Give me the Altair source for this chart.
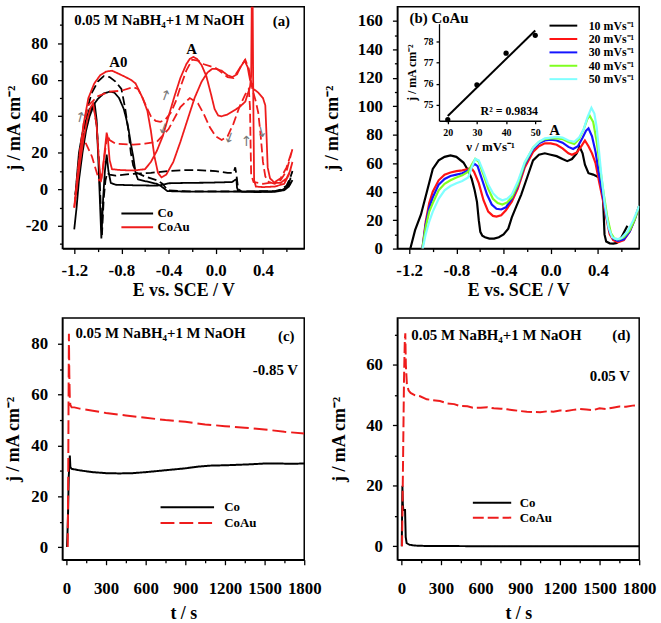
import altair as alt
import pandas as pd

FONT = "Liberation Serif"
RED = "#ee1c1c"

# ===================== (a) CVs of Co and CoAu =====================
a_co_solid_E = [-1.19, -1.16, -1.13, -1.10, -1.05, -1.00, -0.95, -0.90, -0.86, -0.82,
                -0.78, -0.76, -0.74, -0.72, -0.70, -0.68, -0.66, -0.60, -0.50, -0.46,
                -0.41, -0.30, -0.10, 0.10, 0.30, 0.50, 0.56, 0.60, 0.63, 0.65,
                0.62, 0.58, 0.50, 0.35, 0.22, 0.19, 0.18, 0.175, 0.16, 0.14,
                0.05, -0.10, -0.25, -0.40, -0.45, -0.50, -0.70, -0.85, -0.89, -0.91,
                -0.925, -0.94, -0.955, -0.97, -0.98, -0.995, -1.01, -1.025, -1.04, -1.07,
                -1.10, -1.13, -1.16, -1.18, -1.20]
a_co_solid_j = [-3, 20, 31, 38, 45, 49.5, 52.5, 53.5, 53, 50,
                44, 39, 33, 25, 18, 9, 5.5, 4.5, 3, 1.5,
                -1, -1.2, -1.3, -1.3, -1.2, -1.2, -0.5, 1, 3, 5,
                1.5, -0.5, -1.4, -1.5, -1.4, -1, 1, 5.5, 5, 4,
                3.8, 3.6, 3.5, 3.3, 2.5, 2, 2.2, 2.5, 3.5, 10,
                19, 10, -5, -27, -10, 15, 38, 46, 45, 40,
                32, 20, 5, -10, -22]

a_co_dash_E = [-1.19, -1.16, -1.13, -1.10, -1.05, -1.00, -0.95, -0.90, -0.85, -0.80,
               -0.77, -0.74, -0.72, -0.70, -0.67, -0.60, -0.50, -0.45, -0.41, -0.30,
               -0.10, 0.10, 0.30, 0.50, 0.56, 0.60, 0.63, 0.65,
               0.62, 0.58, 0.50, 0.35, 0.22, 0.19, 0.175, 0.165, 0.15, 0.10,
               0.00, -0.15, -0.25, -0.40, -0.55, -0.70, -0.85, -0.90, -0.92, -0.935,
               -0.95, -0.965, -0.975, -0.99, -1.01, -1.03, -1.05, -1.07, -1.10, -1.13,
               -1.16, -1.19]
a_co_dash_j = [-3, 15, 30, 42, 53, 59, 62, 61.5, 59, 55,
               45, 32, 20, 13, 9, 7, 5, 3, -0.5, -1,
               -1.2, -1.2, -1.1, -1, 0, 2, 6, 10,
               3, 0, -1.3, -1.3, -1.2, 0, 8, 12, 9, 9,
               10, 10.5, 10.5, 10, 9, 8.5, 7.5, 8, 9, 5,
               -5, -25, -10, 15, 35, 44, 46, 44, 38, 27,
               12, -5]

a_coau_solid_E = [-1.20, -1.18, -1.15, -1.12, -1.08, -1.03, -0.98, -0.93, -0.88, -0.83,
                  -0.78, -0.72, -0.68, -0.62, -0.58, -0.55, -0.52, -0.49, -0.46, -0.42,
                  -0.36, -0.30, -0.24, -0.18, -0.12, -0.07, -0.03, 0.00, 0.05, 0.10,
                  0.14, 0.18, 0.21, 0.245, 0.27, 0.29, 0.32, 0.36, 0.40, 0.42,
                  0.43, 0.44, 0.46, 0.50, 0.55, 0.60, 0.63, 0.65,
                  0.62, 0.58, 0.50, 0.40, 0.34, 0.325, 0.318, 0.312, 0.306, 0.30,
                  0.29, 0.27, 0.25, 0.20, 0.15, 0.10, 0.05, 0.02, -0.01, -0.04,
                  -0.08, -0.12, -0.16, -0.19, -0.22, -0.25, -0.30, -0.35, -0.40, -0.45,
                  -0.50, -0.55, -0.60, -0.70, -0.80, -0.88, -0.90, -0.915, -0.925, -0.94,
                  -0.96, -0.975, -0.99, -1.01, -1.04, -1.06, -1.09, -1.12, -1.15, -1.18, -1.20]
a_coau_solid_j = [-10, 0, 20, 36, 50, 58, 62.5, 64.5, 65, 63.5,
                  62, 60, 58, 50, 43, 32, 18, 9, 6.5, 8,
                  15, 26, 38, 50, 59, 64, 66, 66, 65, 62.5,
                  61.5, 63, 67, 70.5, 67, 60, 55, 53, 50, 46,
                  30, 12, 6, 3.5, 3.5, 6, 10, 15,
                  8, 3, 1.5, 1.2, 1.5, 5, 50, 110, 110, 62,
                  56, 52, 48, 45, 43, 41, 40, 40.5, 44, 52,
                  62, 68, 71.5, 72.5, 71.5, 68.5, 61, 51, 40, 29,
                  21, 15, 11, 10.3, 10.5, 11, 16, 28, 31, 22,
                  9, 4, 15, 35, 47, 45, 38, 28, 15, 0, -10]

a_coau_dash_E = [-1.20, -1.17, -1.15, -1.12, -1.08, -1.00, -0.90, -0.80, -0.70, -0.66,
                 -0.62, -0.58, -0.55, -0.51, -0.47, -0.43, -0.38, -0.34, -0.30, -0.25,
                 -0.20, -0.15, -0.10, 0.00, 0.10, 0.15, 0.20, 0.25, 0.28, 0.31,
                 0.34, 0.36, 0.38, 0.40, 0.42, 0.45, 0.50, 0.55, 0.60, 0.65,
                 0.60, 0.55, 0.50, 0.40, 0.32, 0.30, 0.295, 0.29, 0.28, 0.25,
                 0.20, 0.15, 0.10, 0.05, 0.00, -0.05, -0.10, -0.15, -0.22, -0.30,
                 -0.40, -0.50, -0.60, -0.70, -0.85, -0.90, -0.92, -0.94, -0.97, -0.99,
                 -1.05, -1.10, -1.13, -1.16, -1.20]
a_coau_dash_j = [-10, 10, 22, 36, 46, 51, 53.5, 54, 56, 55,
                 50, 44, 40, 37.5, 37, 38, 42, 48, 56, 65,
                 71, 70.5, 68.5, 66.5, 61.5, 61, 66, 71, 66, 55,
                 48, 42, 30, 15, 7, 4, 3, 5, 10, 22,
                 12, 6, 4, 3, 4, 8, 25, 45, 55, 52,
                 45, 36, 29, 27, 29, 34, 41, 47, 50, 45,
                 33, 26, 25, 24.5, 25, 27, 30, 20, 6, 5,
                 18, 25, 27, 15, -10]

a_arrow_E = [-1.15, -0.43, -0.44, 0.12, 0.26, 0.385]
a_arrow_j = [39, 51, 34, 29, 26, 32]
a_arrow_angle = [15, 20, 200, 200, 0, 165]

# ===================== (b) CoAu at several scan rates =====================
b_rates = ["10 mVs⁻¹", "20 mVs⁻¹", "30 mVs⁻¹", "40 mVs⁻¹", "50 mVs⁻¹"]
b_colors = ["#000000", "#ff1414", "#1414ff", "#80ff20", "#80ffff"]

b10_E = [-1.19, -1.15, -1.10, -1.05, -1.00, -0.95, -0.90, -0.85, -0.80, -0.74,
         -0.70, -0.67, -0.645, -0.625, -0.61, -0.597, -0.58, -0.557, -0.52, -0.48,
         -0.44, -0.40, -0.36, -0.33, -0.29, -0.25, -0.20, -0.15, -0.10, -0.05,
         0.00, 0.05, 0.10, 0.14, 0.18, 0.22, 0.245, 0.27, 0.29, 0.32,
         0.36, 0.41, 0.44, 0.456, 0.47, 0.50, 0.53, 0.56, 0.60, 0.65]
b10_j = [0, 13, 24, 40, 56, 62, 64.5, 65.5, 64.5, 60.5,
         55, 49, 41, 32.7, 20, 11.8, 9, 8, 7, 7,
         8, 10, 14, 22, 30, 38, 50, 62, 66, 67,
         66, 65, 63, 61.5, 63, 67, 71.5, 67, 59, 53,
         52, 50, 42, 10, 5, 3.7, 3.5, 4, 8, 16]

b20_E = [-1.088, -1.06, -1.03, -1.00, -0.95, -0.90, -0.85, -0.80, -0.75, -0.70,
         -0.675, -0.65, -0.61, -0.57, -0.53, -0.49, -0.46, -0.42, -0.38, -0.33,
         -0.28, -0.22, -0.15, -0.10, -0.05, 0.00, 0.05, 0.10, 0.15, 0.18,
         0.22, 0.26, 0.29, 0.32, 0.35, 0.38, 0.41, 0.44, 0.47, 0.50,
         0.53, 0.57, 0.62, 0.67, 0.71, 0.75]
b20_j = [0, 19, 32, 40, 48, 52, 53.5, 54.5, 55, 56,
         57, 54, 46, 34, 26, 23, 22.5, 23.5, 27, 33,
         42, 57, 68, 72, 74, 74, 73, 70.5, 67, 66,
         67.5, 72, 76, 72, 67, 60, 47, 35, 22, 10,
         6, 4.5, 6, 12, 20, 30]

b30_E = [-1.088, -1.06, -1.03, -1.00, -0.95, -0.90, -0.85, -0.80, -0.75, -0.70,
         -0.67, -0.645, -0.62, -0.58, -0.54, -0.50, -0.46, -0.42, -0.38, -0.33,
         -0.28, -0.22, -0.15, -0.10, -0.05, 0.00, 0.05, 0.10, 0.15, 0.19,
         0.23, 0.27, 0.30, 0.32, 0.35, 0.38, 0.41, 0.44, 0.47, 0.50,
         0.53, 0.57, 0.62, 0.67, 0.71, 0.75]
b30_j = [0, 17, 29, 36, 45, 49, 51, 52, 53, 55,
         57.5, 59.5, 58, 48, 38, 31, 28, 27.5, 29, 35,
         44, 59, 70, 74, 76, 76.5, 76, 74.5, 71.5, 70,
         72, 78, 83, 84.5, 79, 68, 52, 38, 24, 12,
         7, 5.5, 6.5, 12, 20, 30]

b40_E = [-1.088, -1.06, -1.03, -1.00, -0.95, -0.90, -0.85, -0.80, -0.75, -0.70,
         -0.67, -0.64, -0.61, -0.57, -0.53, -0.49, -0.45, -0.41, -0.37, -0.33,
         -0.28, -0.22, -0.15, -0.10, -0.05, 0.00, 0.05, 0.10, 0.15, 0.20,
         0.24, 0.28, 0.31, 0.33, 0.36, 0.39, 0.42, 0.45, 0.48, 0.51,
         0.54, 0.58, 0.62, 0.67, 0.71, 0.75]
b40_j = [0, 15, 26, 32, 41, 45.5, 48, 50, 51.5, 54,
         59, 63, 61, 52, 42, 35, 32, 31, 32.5, 36,
         45, 60, 71, 75, 77, 77.5, 77.5, 77, 75, 73.5,
         77, 84, 91, 93.5, 89, 75, 56, 38, 22, 11,
         7, 6.5, 8, 13, 20, 30]

b50_E = [-1.085, -1.06, -1.03, -1.00, -0.95, -0.90, -0.85, -0.80, -0.75, -0.70,
         -0.67, -0.64, -0.61, -0.57, -0.53, -0.49, -0.45, -0.41, -0.37, -0.33,
         -0.28, -0.22, -0.15, -0.10, -0.05, 0.00, 0.05, 0.10, 0.15, 0.20,
         0.24, 0.28, 0.31, 0.345, 0.37, 0.39, 0.41, 0.43, 0.46, 0.49,
         0.52, 0.56, 0.60, 0.65, 0.70, 0.75]
b50_j = [0, 10, 19, 26, 35, 41, 44, 46, 47.5, 50,
         57, 63, 62, 54, 45, 39, 35.5, 34, 35, 38,
         47, 61, 71, 75, 77.5, 78, 78.5, 78, 76, 75,
         78, 84, 92, 99, 95, 85, 68, 51, 30, 15,
         8, 6.5, 7.5, 12, 20, 30]

inset_v = [20, 30, 40, 50]
inset_j = [74.3, 75.95, 77.45, 78.3]

# ===================== (c) chronoamperometry at -0.85 V =====================
c_co_t = [5, 12, 18, 22, 26, 30, 40, 100, 200, 300, 400, 500, 600, 700, 800, 900,
          1000, 1100, 1200, 1300, 1400, 1500, 1600, 1700, 1800]
c_co_j = [0, 12, 28, 32, 36, 31.5, 30.8, 30.2, 29.5, 29.1, 29.0, 29.1, 29.5, 30.0, 30.5, 31.0,
          31.7, 32.1, 32.2, 32.4, 32.6, 32.9, 32.9, 32.8, 32.9]
c_coau_t = [10, 14, 17, 19, 22, 26, 30, 40, 60, 100, 200, 300, 450, 600, 750, 900,
            1050, 1200, 1350, 1500, 1650, 1800]
c_coau_j = [0, 30, 65, 84, 68, 58, 56, 55, 55, 54.5, 53.7, 52.8, 51.8, 50.9, 50.0, 49.3,
            48.3, 47.6, 47.0, 46.3, 45.4, 44.7]

# ===================== (d) chronoamperometry at 0.05 V =====================
d_co_t = [3, 8, 11, 15, 22, 28, 33, 40, 60, 100, 200, 600, 1000, 1400, 1800]
d_co_j = [0, 20, 14, 12, 12, 12, 3, 1, 0.5, 0.2, 0.05, 0, 0, 0, 0]
d_coau_t = [5, 12, 20, 26, 30, 34, 42, 55, 70, 100,
            142, 192, 240, 292, 350, 400, 442, 500, 541, 600,
            650, 700, 752, 800, 850, 901, 950, 1001, 1050, 1101,
            1150, 1200, 1250, 1300, 1350, 1400, 1450, 1500, 1550, 1600,
            1650, 1700, 1750, 1800]
d_coau_j = [0, 25, 55, 68, 70.4, 60, 53.5, 51.5, 50.7, 50,
            49.6, 48.6, 48.3, 48, 47.2, 47, 46.4, 46.3, 45.8, 45.8,
            46, 45.6, 45.5, 45.3, 45, 44.7, 44.5, 44.4, 44.3, 44.6,
            44.5, 44.9, 44.7, 45.1, 45.4, 45.2, 45, 45.6, 45.4, 45.8,
            46.2, 46.1, 46.5, 46.7]

# tick values
ticks_E = [-1.2, -1.0, -0.8, -0.6, -0.4, -0.2, 0.0, 0.2, 0.4, 0.6]
ticks_a_y = [-30, -20, -10, 0, 10, 20, 30, 40, 50, 60, 70, 80, 90]
ticks_b_y = list(range(0, 161, 10))
ticks_t = list(range(0, 1801, 150))
ticks_c_y = list(range(0, 81, 10))
ticks_d_y = list(range(0, 71, 10))

MAT = ["Co", "CoAu"]
PANEL = 244
J_TITLE = "j / mA cm⁻²"


def curve(E, j, key, **extra):
    assert len(E) == len(j), key
    d = pd.DataFrame({"x": E, "y": j})
    d["idx"] = range(len(d))
    d["curve"] = key
    for k, v in extra.items():
        d[k] = v
    return d


def axis(values, major, fmt, title, orient, extent=None, **kw):
    args = dict(values=values, format=fmt, title=title, orient=orient,
                labelExpr=f"({major}) ? replace(datum.label, '\u2212', '-') : ''",
                tickSize={"condition": {"test": f"!({major})", "value": 3}, "value": 5},
                labelFlush=False, labelOverlap=False, grid=False)
    if extent is not None:
        args.update(minExtent=extent, maxExtent=extent)
    args.update(kw)
    return alt.Axis(**args)


def enc_x(domain, values, major, fmt, title, lpad, tpad):
    return alt.X("x:Q", scale=alt.Scale(domain=domain, nice=False, zero=False),
                 axis=axis(values, major, fmt, title, "bottom", labelPadding=lpad, titlePadding=tpad))


def enc_y(domain, values, major, extent):
    return alt.Y("y:Q", scale=alt.Scale(domain=domain, nice=False, zero=False),
                 axis=axis(values, major, "d", J_TITLE, "left", extent=extent,
                           labelPadding=10, titlePadding=1))


def texts(xs, ys, labels, x, y, align="center", size=15):
    d = pd.DataFrame({"x": xs, "y": ys, "label": labels})
    return alt.Chart(d).mark_text(align=align, baseline="middle", font=FONT,
                                  fontWeight="bold", fontSize=size, color="black").encode(
        x=x, y=y, text="label:N")


def legend(lx, ly, length, gap, rowpad, size=13):
    # stroke symbol drawn as a long custom path so that rows stay compact
    q = length / 4.0
    return alt.Legend(orient="none", legendX=lx, legendY=ly, title=None,
                      symbolType="M-4,0H4", symbolSize=q * q, symbolStrokeWidth=2,
                      labelFont=FONT, labelFontWeight="bold", labelFontSize=size,
                      labelColor="black", labelOffset=1.5 * q + gap, rowPadding=rowpad,
                      padding=0)


MAJOR_E = "abs(round(datum.value*10)) % 4 == 0"

# ---------------- panel (a) ----------------
a_df = pd.concat([
    curve(a_co_solid_E, a_co_solid_j, "Co-s", mat="Co", scan="solid"),
    curve(a_co_dash_E, a_co_dash_j, "Co-d", mat="Co", scan="dash"),
    curve(a_coau_solid_E, a_coau_solid_j, "CoAu-s", mat="CoAu", scan="solid"),
    curve(a_coau_dash_E, a_coau_dash_j, "CoAu-d", mat="CoAu", scan="dash"),
])
ax = enc_x([-1.3, 0.75], ticks_E, MAJOR_E, ".1f", "E vs. SCE / V", 9, 3)
ay = enc_y([-32.5, 100], ticks_a_y, "abs(round(datum.value)) % 20 == 0", 38)

a_lines = alt.Chart(a_df).mark_line(clip=True, strokeWidth=1.8).encode(
    x=ax, y=ay,
    color=alt.Color("mat:N", scale=alt.Scale(domain=MAT, range=["black", RED]),
                    legend=legend(69, 202, 32, 2, 0)),
    strokeDash=alt.StrokeDash("scan:N", scale=alt.Scale(domain=["solid", "dash"],
                                                        range=[[1, 0], [9, 4]]), legend=None),
    detail="curve:N", order="idx:Q")
a_arrows = alt.Chart(pd.DataFrame({"x": a_arrow_E, "y": a_arrow_j, "ang": a_arrow_angle})).mark_text(
    font="DejaVu Sans", fontSize=14, color="#7a7a7a", baseline="middle").encode(
    x=ax, y=ay, text=alt.value("↑"), angle=alt.Angle("ang:Q", scale=None))
panel_a = alt.layer(
    a_lines,
    texts([-1.2], [93], ["0.05 M NaBH₄+1 M NaOH"], ax, ay, align="left"),
    texts([0.556, -0.826, -0.205], [92, 69.7, 76.8], ["(a)", "A0", "A"], ax, ay),
    a_arrows,
).properties(width=PANEL, height=PANEL)

# ---------------- panel (b) ----------------
b_df = pd.concat([curve(E, j, r, rate=r) for E, j, r in
                  zip([b10_E, b20_E, b30_E, b40_E, b50_E],
                      [b10_j, b20_j, b30_j, b40_j, b50_j], b_rates)])
bx = enc_x([-1.3, 0.75], ticks_E, MAJOR_E, ".1f", "E vs. SCE / V", 9, 3)
by = enc_y([0, 170], ticks_b_y, "round(datum.value) % 20 == 0", 55)
b_lines = alt.Chart(b_df).mark_line(clip=True, strokeWidth=2.2).encode(
    x=bx, y=by,
    color=alt.Color("rate:N", scale=alt.Scale(domain=b_rates, range=b_colors),
                    legend=legend(161.5, 13, 28, 9, 1.5, size=12)),
    detail="curve:N", order="idx:Q")
b_main = alt.layer(
    b_lines,
    texts([-1.197], [162.4], ["(b) CoAu"], bx, by, align="left"),
    texts([0.032], [83.5], ["A"], bx, by),
)

ix = alt.X("v:Q", scale=alt.Scale(domain=[17, 52], range=[42, 145], nice=False, zero=False),
           axis=alt.Axis(orient="bottom", offset=-129, values=inset_v, title="ν / mVs⁻¹",
                         labelFontSize=10, titleFontSize=13, tickSize=3, labelPadding=4,
                         titlePadding=3, grid=False, labelFlush=False))
iy = alt.Y("jv:Q", scale=alt.Scale(domain=[74.25, 78.85], range=[115, 17], nice=False, zero=False),
           axis=alt.Axis(orient="left", offset=-42, values=[75, 76, 77, 78], title=J_TITLE,
                         labelFontSize=10, titleFontSize=12, tickSize=3, labelPadding=3,
                         titlePadding=5, grid=False, labelFlush=False))
inset_df = pd.DataFrame({"v": inset_v, "jv": inset_j})
b_inset = alt.layer(
    alt.Chart(inset_df).transform_regression("v", "jv", extent=[20, 50]).mark_line(
        color="black", strokeWidth=2).encode(x=ix, y=iy),
    alt.Chart(inset_df).mark_circle(color="black", size=28, opacity=1).encode(x=ix, y=iy),
    alt.Chart(pd.DataFrame({"v": [41.1], "jv": [74.72], "label": ["R² = 0.9834"]})).mark_text(
        font=FONT, fontWeight="bold", fontSize=12, color="black", baseline="middle").encode(
        x=ix, y=iy, text="label:N"),
)
panel_b = alt.layer(b_main, b_inset).resolve_scale(
    x="independent", y="independent").resolve_axis(
    x="independent", y="independent").properties(width=PANEL, height=PANEL)

# ---------------- panels (c) and (d) ----------------
MAJOR_T = "round(datum.value) % 300 == 0"


def chrono(co_t, co_j, coau_t, coau_j, ydom, yticks, extent, dash, leg, txts):
    df = pd.concat([curve(co_t, co_j, "Co", mat="Co"), curve(coau_t, coau_j, "CoAu", mat="CoAu")])
    cx = enc_x([-30, 1800], ticks_t, MAJOR_T, "d", "t / s", 16, 8)
    cy = enc_y(ydom, yticks, "round(datum.value) % 20 == 0", extent)
    lines = alt.Chart(df).mark_line(clip=True, strokeWidth=2).encode(
        x=cx, y=cy,
        color=alt.Color("mat:N", scale=alt.Scale(domain=MAT, range=["black", RED]), legend=leg),
        strokeDash=alt.StrokeDash("mat:N", scale=alt.Scale(domain=MAT, range=[[1, 0], dash]),
                                  legend=leg),
        order="idx:Q")
    layers = [lines]
    for xs, ys, labels, align in txts:
        layers.append(texts(xs, ys, labels, cx, cy, align=align))
    return alt.layer(*layers).properties(width=PANEL, height=PANEL)


panel_c = chrono(c_co_t, c_co_j, c_coau_t, c_coau_j, [-5, 90.2], ticks_c_y, 39, [14, 5],
                 legend(118, 183, 54, 9, 1),
                 [([68], [84.4], ["0.05 M NaBH₄+1 M NaOH"], "left"),
                  ([1664, 1582], [82.9, 69.7], ["(c)", "-0.85 V"], "center")])
panel_d = chrono(d_co_t, d_co_j, d_coau_t, d_coau_j, [-4.5, 75.5], ticks_d_y, 48, [11, 4],
                 legend(89, 180, 38.7, 7, 1),
                 [([75], [70], ["0.05 M NaBH₄+1 M NaOH"], "left"),
                  ([1665, 1578], [70, 56.2], ["(d)", "0.05 V"], "center")])

chart = alt.concat(panel_a, panel_b, panel_c, panel_d, columns=2,
                   spacing={"row": 70, "column": 94}, bounds="flush").resolve_scale(
    color="independent", strokeDash="independent").properties(
    padding={"left": 4, "top": 3, "right": 4, "bottom": 4}, background="white"
).configure_view(stroke="black", strokeWidth=1.5).configure_axis(
    labelFont=FONT, titleFont=FONT, labelFontWeight="bold", titleFontWeight="bold",
    labelFontSize=17, titleFontSize=18, labelColor="black", titleColor="black",
    domainColor="black", tickColor="black", domainWidth=1.3, tickWidth=1.3)

chart.save("out.html", embed_options={"renderer": "svg", "actions": False})
